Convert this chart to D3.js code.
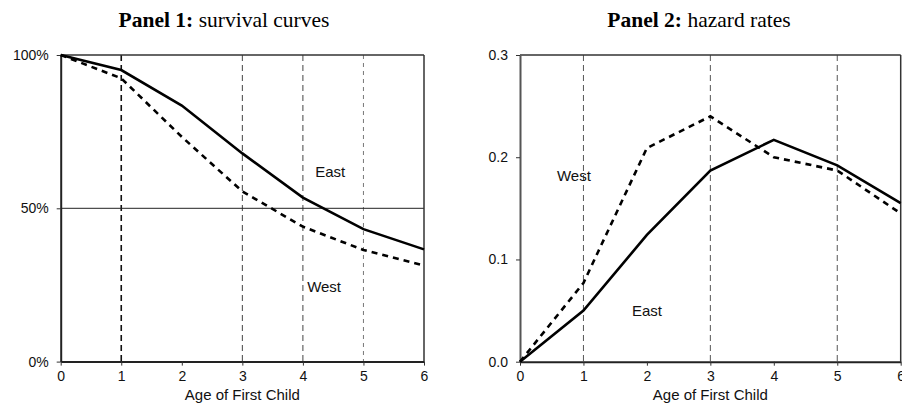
<!DOCTYPE html>
<html><head><meta charset="utf-8">
<script src="https://cdn.jsdelivr.net/npm/d3@7"></script>
<style>body{margin:0;background:#fff}svg{display:block}</style>
</head><body>
<svg id="c" width="902" height="412"></svg>
<script>
const ages = [0, 1, 2, 3, 4, 5, 6];
const survEast = [1.00, 0.951, 0.835, 0.679, 0.535, 0.432, 0.366];
const survWest = [1.00, 0.924, 0.733, 0.555, 0.440, 0.364, 0.313];
const hazEast = [0.000, 0.050, 0.124, 0.187, 0.217, 0.192, 0.155];
const hazWest = [0.000, 0.077, 0.209, 0.240, 0.200, 0.187, 0.145];
const xTicks = [0, 1, 2, 3, 4, 5, 6];
const survTicks = [0, 0.5, 1];
const hazTicks = [0, 0.1, 0.2, 0.3];
const survGrid = [1, 3, 4, 5];
const hazGrid = [1, 3, 5];

const svg = d3.select("#c");
const sansFont = "'Liberation Sans', Arial, sans-serif";
const serifFont = "'Liberation Serif', 'Times New Roman', serif";

function panel(opt) {
  const g = svg.append("g");
  const x = d3.scaleLinear().domain([0, 6]).range([opt.x0, opt.x1]);
  const y = d3.scaleLinear().domain(opt.yDomain).range([opt.yb, opt.yt]);

  // title
  const t = g.append("text").attr("x", opt.titleX).attr("y", 27)
    .attr("text-anchor", "middle").attr("font-family", serifFont).attr("font-size", 21.5);
  t.append("tspan").attr("font-weight", "bold").text(opt.titleBold);
  t.append("tspan").text(opt.titleRest);

  // vertical dashed gridlines
  opt.grid.forEach(v => {
    const st = opt.gridStyle(v);
    g.append("line").attr("x1", x(v)).attr("x2", x(v)).attr("y1", opt.yt).attr("y2", opt.yb)
      .attr("stroke", st.color).attr("stroke-width", st.w).attr("stroke-dasharray", st.dash);
  });

  // horizontal reference line
  if (opt.hline != null) {
    g.append("line").attr("x1", opt.x0).attr("x2", opt.x1).attr("y1", y(opt.hline)).attr("y2", y(opt.hline))
      .attr("stroke", "#222").attr("stroke-width", 1);
  }

  // frame top/right
  g.append("line").attr("x1", opt.x0).attr("x2", opt.x1).attr("y1", opt.yt).attr("y2", opt.yt)
    .attr("stroke", "#333").attr("stroke-width", 1.5);
  g.append("line").attr("x1", opt.x1).attr("x2", opt.x1).attr("y1", opt.yt).attr("y2", opt.yb)
    .attr("stroke", "#333").attr("stroke-width", 1.5);

  // axes
  const xa = g.append("g").attr("transform", `translate(0,${opt.yb})`)
    .call(d3.axisBottom(x).tickValues(xTicks).tickSize(4).tickSizeOuter(0).tickPadding(5).tickFormat(d3.format("d")));
  const ya = g.append("g").attr("transform", `translate(${opt.x0},0)`)
    .call(d3.axisLeft(y).tickValues(opt.yTicks).tickSize(4).tickSizeOuter(0).tickPadding(8).tickFormat(opt.yFormat));
  [xa, ya].forEach(a => {
    a.selectAll("text").attr("font-family", sansFont).attr("font-size", 14).attr("fill", "#111");
    a.selectAll("line").attr("stroke", "#333");
  });
  xa.select(".domain").attr("stroke", "#222").attr("stroke-width", 2);
  ya.select(".domain").attr("stroke", opt.leftColor).attr("stroke-width", 2);

  g.append("text").attr("x", (opt.x0 + opt.x1) / 2).attr("y", 400).attr("text-anchor", "middle")
    .attr("font-family", sansFont).attr("font-size", 15).attr("fill", "#111").text("Age of First Child");

  const line = d3.line().x(d => x(d[0])).y(d => y(d[1]));
  g.append("path").datum(ages.map((a, i) => [a, opt.west[i]])).attr("d", line)
    .attr("fill", "none").attr("stroke", "#000").attr("stroke-width", 2.6).attr("stroke-dasharray", "6,5");
  g.append("path").datum(ages.map((a, i) => [a, opt.east[i]])).attr("d", line)
    .attr("fill", "none").attr("stroke", "#000").attr("stroke-width", 2.6);

  opt.labels.forEach(l => {
    g.append("text").attr("x", x(l.x)).attr("y", y(l.y)).attr("text-anchor", "middle")
      .attr("dominant-baseline", "middle")
      .attr("font-family", sansFont).attr("font-size", 15).attr("fill", "#111").text(l.text);
  });
}

panel({
  x0: 60.7, x1: 424, yt: 55, yb: 361.6, yDomain: [0, 1],
  titleX: 224, titleBold: "Panel 1:", titleRest: " survival curves",
  grid: survGrid,
  gridStyle: v => v === 1 ? {color: "#111", w: 1.6, dash: "6,4"} : (v === 5 ? {color: "#777", w: 1, dash: "4,4"} : {color: "#444", w: 1, dash: "6,4"}),
  hline: 0.5,
  yTicks: survTicks, yFormat: d3.format(".0%"), leftColor: "#222",
  east: survEast, west: survWest,
  labels: [{x: 4.45, y: 0.616, text: "East"}, {x: 4.35, y: 0.24, text: "West"}]
});

panel({
  x0: 520, x1: 900.7, yt: 55, yb: 361.7, yDomain: [0, 0.3],
  titleX: 699, titleBold: "Panel 2:", titleRest: " hazard rates",
  grid: hazGrid,
  gridStyle: v => ({color: "#555", w: 1, dash: "6,4"}),
  hline: null,
  yTicks: hazTicks, yFormat: d3.format(".1f"), leftColor: "#555",
  east: hazEast, west: hazWest,
  labels: [{x: 0.85, y: 0.181, text: "West"}, {x: 2.0, y: 0.049, text: "East"}]
});
</script>
</body></html>
